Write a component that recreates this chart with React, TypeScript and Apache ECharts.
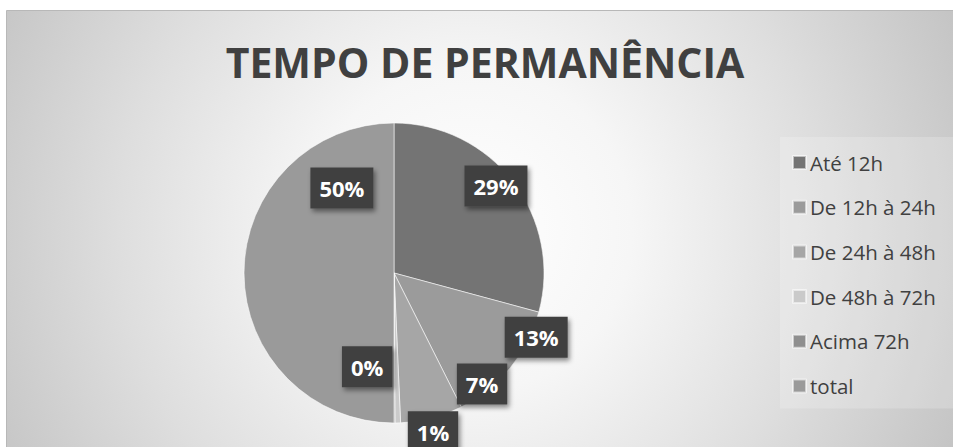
import React, { useEffect, useRef } from "react";
import * as echarts from "echarts";

const titleText = "TEMPO DE PERMANÊNCIA";
const categories = ["Até 12h", "De 12h à 24h", "De 24h à 48h", "De 48h à 72h", "Acima 72h", "total"];
const values = [584, 268, 134, 12, 2, 1000];
const sliceColors = ["#747474", "#9b9b9b", "#a6a6a6", "#cacaca", "#8f8f8f", "#9a9a9a"];
// label placement: angle (deg, clockwise from top) and distance as fraction of radius
const labelAngles = [49.5, 114.3, 141.6, 166.2, 196, 328.5];
const labelDist = [0.894, 1.04, 0.945, 1.09, 0.65, 0.665];

const CX = 394;
const CY = 273;
const R = 150;
const FONT = "'Open Sans', 'Noto Sans', sans-serif";

export default function App() {
  const ref = useRef<HTMLDivElement>(null);
  useEffect(() => {
    const chart = echarts.init(ref.current!, undefined, { renderer: "svg" });
    const total = values.reduce((a, b) => a + b, 0);
    chart.setOption({
      animation: false,
      graphic: [
        {
          type: "rect",
          z: -10,
          silent: true,
          shape: { x: 6.5, y: 10.5, width: 960, height: 450 },
          style: {
            fill: {
              type: "radial",
              x: 470,
              y: 230,
              r: 540,
              global: true,
              colorStops: [
                { offset: 0, color: "#ffffff" },
                { offset: 0.3, color: "#f6f6f6" },
                { offset: 0.65, color: "#dedede" },
                { offset: 1, color: "#c3c3c3" },
              ],
            },
            stroke: "#b8b8b8",
            lineWidth: 1,
          },
        },
        {
          type: "text",
          x: 485,
          y: 62,
          style: {
            text: titleText,
            fill: "#404040",
            font: `bold 41px ${FONT}`,
            textAlign: "center",
            textVerticalAlign: "middle",
          },
        },
      ],
      legend: {
        orient: "vertical",
        left: 780,
        top: 137,
        padding: [15, 30, 12, 12],
        backgroundColor: "rgba(255,255,255,0.2)",
        itemWidth: 13,
        itemHeight: 13,
        itemGap: 23.7,
        icon: "rect",
        data: categories,
        textStyle: { fontFamily: FONT, fontSize: 20.5, color: "#404040", lineHeight: 20, padding: [0, 0, 0, -1] },
      },
      series: [
        {
          type: "pie",
          center: [CX, CY],
          radius: R,
          startAngle: 90,
          clockwise: true,
          data: categories.map((name, i) => ({
            name,
            value: values[i],
            itemStyle: { color: sliceColors[i] },
          })),
          itemStyle: { borderColor: "rgba(255,255,255,0.55)", borderWidth: 1 },
          label: {
            show: true,
            position: "inside",
            formatter: (p: any) => Math.round((p.value / total) * 100) + "%",
            color: "#ffffff",
            fontFamily: FONT,
            fontWeight: "bold",
            fontSize: 22,
            lineHeight: 23,
            backgroundColor: "#404040",
            padding: [9, 9],
            shadowColor: "rgba(0,0,0,0.45)",
            shadowBlur: 5,
            shadowOffsetX: 2,
            shadowOffsetY: 3,
          },
          labelLine: { show: false },
          labelLayout: (params: any) => {
            const i = params.dataIndex;
            const a = (labelAngles[i] * Math.PI) / 180;
            const d = labelDist[i] * R;
            return {
              x: CX + d * Math.sin(a),
              y: CY - d * Math.cos(a),
              align: "center",
              verticalAlign: "middle",
            };
          },
          emphasis: { disabled: true },
        },
      ],
    });
    return () => chart.dispose();
  }, []);
  return (
    <div
      ref={ref}
      style={{ position: "absolute", left: 0, top: 0, width: 953, height: 447, background: "#ffffff" }}
    />
  );
}
